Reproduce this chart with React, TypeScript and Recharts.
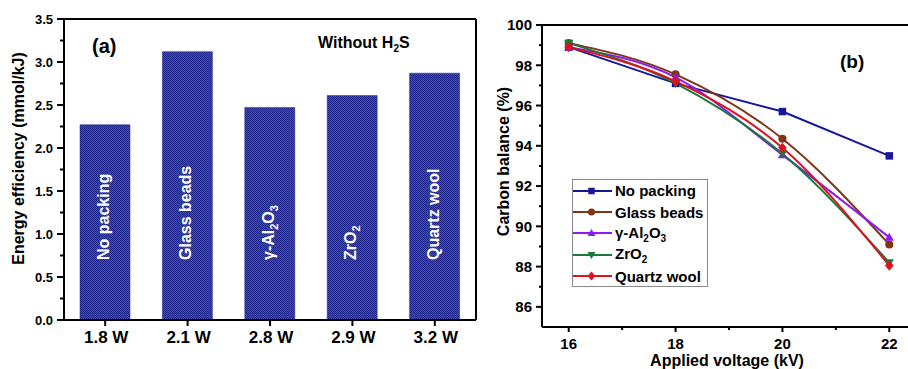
import React from 'react';
import { BarChart, Bar, XAxis, YAxis, LabelList, Label, LineChart, Line, Legend } from 'recharts';

const FONT = '"Liberation Sans", Arial, Helvetica, sans-serif';

// ---- Panel (a) data ----
const powers = ['1.8 W', '2.1 W', '2.8 W', '2.9 W', '3.2 W'];
const materials = ['No packing', 'Glass beads', 'γ-Al2O3', 'ZrO2', 'Quartz wool'];
const efficiency = [2.27, 3.12, 2.47, 2.61, 2.87];
const efficiencyTicks = [0, 0.25, 0.5, 0.75, 1, 1.25, 1.5, 1.75, 2, 2.25, 2.5, 2.75, 3, 3.25, 3.5];

// ---- Panel (b) data ----
const voltages = [16, 18, 20, 22];
const voltageTicks = [16, 17, 18, 19, 20, 21, 22];
const balanceTicks = [86, 87, 88, 89, 90, 91, 92, 93, 94, 95, 96, 97, 98, 99, 100];
const noPacking = [98.9, 97.1, 95.7, 93.5];
const glassBeads = [99.1, 97.55, 94.35, 89.1];
const alumina = [98.9, 97.4, 93.55, 89.45];
const zirconia = [99.1, 97.1, 93.6, 88.2];
const quartzWool = [98.9, 97.2, 93.9, 88.05];

const seriesKeys = ['np', 'gb', 'al', 'zr', 'qw'];
const seriesColors = ['#16169e', '#7f3514', '#8c1cf0', '#177a3c', '#e0101c'];
const seriesShapes = ['square', 'circle', 'triangle', 'triangleDown', 'diamond'];
const seriesCurves: any[] = ['linear', 'monotone', 'monotone', 'monotone', 'monotone'];

const barData = powers.map((p, i) => ({ power: p, material: materials[i], eff: efficiency[i] }));
const lineData = voltages.map((v, i) => ({
  v,
  np: noPacking[i],
  gb: glassBeads[i],
  al: alumina[i],
  zr: zirconia[i],
  qw: quartzWool[i],
}));

// split a chemical name into normal and subscript segments
function chemSegments(name: string) {
  const segs: { t: string; sub: boolean }[] = [];
  for (const ch of name) {
    const sub = /[0-9]/.test(ch);
    const last = segs[segs.length - 1];
    if (last && last.sub === sub) last.t += ch;
    else segs.push({ t: ch, sub });
  }
  return segs;
}

function chemSvg(name: string, subSize: number, shift: number) {
  const segs = chemSegments(name);
  let inSub = false;
  return segs.map((s, i) => {
    let dy = 0;
    if (s.sub && !inSub) dy = shift;
    if (!s.sub && inSub) dy = -shift;
    inSub = s.sub;
    return (
      <tspan key={i} dy={dy} fontSize={s.sub ? subSize : undefined}>
        {s.t}
      </tspan>
    );
  });
}

function chemHtml(name: string) {
  return chemSegments(name).map((s, i) =>
    s.sub ? (
      <span key={i} style={{ fontSize: 10, position: 'relative', top: 4 }}>
        {s.t}
      </span>
    ) : (
      <span key={i}>{s.t}</span>
    )
  );
}

function marker(shape: string, cx: number, cy: number, color: string, s: number, key?: any) {
  switch (shape) {
    case 'square':
      return <rect key={key} x={cx - s / 2} y={cy - s / 2} width={s} height={s} fill={color} />;
    case 'circle':
      return <circle key={key} cx={cx} cy={cy} r={s / 2 + 0.3} fill={color} />;
    case 'triangle':
      return (
        <polygon
          key={key}
          points={`${cx},${cy - s * 0.62} ${cx - s * 0.62},${cy + s * 0.45} ${cx + s * 0.62},${cy + s * 0.45}`}
          fill={color}
        />
      );
    case 'triangleDown':
      return (
        <polygon
          key={key}
          points={`${cx},${cy + s * 0.62} ${cx - s * 0.62},${cy - s * 0.45} ${cx + s * 0.62},${cy - s * 0.45}`}
          fill={color}
        />
      );
    default:
      return (
        <polygon
          key={key}
          points={`${cx},${cy - s * 0.68} ${cx + s * 0.58},${cy} ${cx},${cy + s * 0.68} ${cx - s * 0.58},${cy}`}
          fill={color}
        />
      );
  }
}

const tickText = { fontFamily: FONT, fontWeight: 'bold' as const, fill: '#000' };

// ---- ticks for panel (a) ----
const YTickA = (p: any) => {
  const { x, y, payload } = p;
  const v = payload.value as number;
  const major = Math.abs(v * 2 - Math.round(v * 2)) < 1e-6;
  return (
    <g>
      <line x1={x} x2={x - (major ? 7 : 4)} y1={y} y2={y} stroke="#000" strokeWidth={2} />
      {major && (
        <text x={x - 11} y={y} dy="0.36em" textAnchor="end" fontSize={13} {...tickText}>
          {v.toFixed(1)}
        </text>
      )}
    </g>
  );
};

const XTickA = (p: any) => {
  const { x, y, payload } = p;
  return (
    <g>
      <line x1={x} x2={x} y1={y} y2={y + 6} stroke="#000" strokeWidth={2} />
      <text x={x + 1} y={y + 23} textAnchor="middle" fontSize={17} {...tickText}>
        {payload.value}
      </text>
    </g>
  );
};

// ---- ticks for panel (b) ----
const YTickB = (p: any) => {
  const { x, y, payload } = p;
  const v = payload.value as number;
  const major = v % 2 === 0;
  return (
    <g>
      <line x1={x} x2={x - (major ? 6 : 3)} y1={y} y2={y} stroke="#000" strokeWidth={2} />
      {major && (
        <text x={x - 10} y={y} dy="0.36em" textAnchor="end" fontSize={15} {...tickText}>
          {v}
        </text>
      )}
    </g>
  );
};

const XTickB = (p: any) => {
  const { x, y, payload } = p;
  const v = payload.value as number;
  const major = v % 2 === 0;
  return (
    <g>
      <line x1={x} x2={x} y1={y} y2={y + (major ? 5 : 3)} stroke="#000" strokeWidth={2} />
      {major && (
        <text x={x} y={y + 22} textAnchor="middle" fontSize={15} {...tickText}>
          {v}
        </text>
      )}
    </g>
  );
};

const BarText = (props: any) => {
  const vb = props.viewBox && props.viewBox.width !== undefined ? props.viewBox : props;
  const { x, y, width, height } = vb;
  const cx = x + width / 2 + 4;
  const ty = y + height - 60;
  return (
    <text
      x={cx}
      y={ty}
      transform={`rotate(-90 ${cx} ${ty})`}
      fill="#fff"
      fontFamily={FONT}
      fontWeight="bold"
      fontSize={16}
      textAnchor="start"
    >
      {chemSvg(String(props.value), 11, 4)}
    </text>
  );
};

const axisLine = { stroke: '#000', strokeWidth: 2 };

const LegendBox = () => (
  <div
    style={{
      width: 136,
      height: 108,
      border: '1px solid #8a8a8a',
      boxSizing: 'border-box',
      background: '#fff',
      fontFamily: FONT,
      fontWeight: 'bold',
      fontSize: 15,
      color: '#000',
    }}
  >
    {materials.map((m, i) => (
      <div key={m} style={{ height: 21.4, display: 'flex', alignItems: 'center', whiteSpace: 'nowrap' }}>
        <svg width={39} height={12} style={{ flex: 'none' }}>
          <line x1={0} x2={39} y1={6} y2={6} stroke={seriesColors[i]} strokeWidth={2} />
          {marker(seriesShapes[i], 18.5, 6, seriesColors[i], 6.5)}
        </svg>
        <span style={{ marginLeft: 3, lineHeight: '15px' }}>{chemHtml(m)}</span>
      </div>
    ))}
  </div>
);

export default function App() {
  return (
    <div
      style={{
        position: 'absolute',
        left: 0,
        top: 0,
        width: 908,
        height: 369,
        overflow: 'hidden',
        background: '#fff',
      }}
    >
      <svg width={0} height={0} style={{ position: 'absolute' }}>
        <defs>
          <pattern id="checker" width={2} height={2} patternUnits="userSpaceOnUse">
            <rect x={0} y={0} width={2} height={2} fill="#3848e0" />
            <rect x={0} y={0} width={1} height={1} fill="#1e258c" />
            <rect x={1} y={1} width={1} height={1} fill="#1e258c" />
          </pattern>
        </defs>
      </svg>

      {/* Panel (a) */}
      <div style={{ position: 'absolute', left: 0, top: 0 }}>
        <BarChart width={480} height={369} data={barData} margin={{ top: 18, left: 63, right: 3, bottom: 48 }}>
          <XAxis
            dataKey="power"
            height={1}
            interval={0}
            tickSize={0}
            tickMargin={0}
            axisLine={axisLine}
            tickLine={false}
            tick={(p: any) => <XTickA {...p} />}
          />
          <XAxis
            xAxisId="top"
            dataKey="power"
            orientation="top"
            height={1}
            tick={false}
            tickLine={false}
            axisLine={axisLine}
          />
          <YAxis
            type="number"
            domain={[0, 3.5]}
            ticks={efficiencyTicks}
            interval={0}
            width={1}
            tickSize={0}
            tickMargin={0}
            axisLine={axisLine}
            tickLine={false}
            tick={(p: any) => <YTickA {...p} />}
          >
            <Label
              content={(p: any) => {
                const vb = p.viewBox;
                const tx = vb.x + vb.width - 40.5;
                const ty = vb.y + vb.height / 2 - 11;
                return (
                  <text
                    x={tx}
                    y={ty}
                    transform={`rotate(-90 ${tx} ${ty})`}
                    textAnchor="middle"
                    fontSize={16}
                    {...tickText}
                  >
                    Energy efficiency (mmol/kJ)
                  </text>
                );
              }}
            />
          </YAxis>
          <YAxis
            yAxisId="right"
            orientation="right"
            type="number"
            domain={[0, 3.5]}
            width={1}
            tick={false}
            tickLine={false}
            axisLine={axisLine}
          />
          <Bar dataKey="eff" barSize={50} fill="url(#checker) #2834b0" stroke="#1e258c" strokeWidth={0.5} isAnimationActive={false}>
            <LabelList dataKey="material" content={(p: any) => <BarText {...p} />} />
          </Bar>
        </BarChart>
      </div>

      {/* Panel (b) */}
      <div style={{ position: 'absolute', left: 480, top: 0 }}>
        <LineChart width={440} height={369} data={lineData} margin={{ top: 24, left: 61, right: 4, bottom: 41 }}>
          <XAxis
            dataKey="v"
            type="number"
            domain={[15.5, 22.5]}
            ticks={voltageTicks}
            interval={0}
            height={1}
            tickSize={0}
            tickMargin={0}
            axisLine={axisLine}
            tickLine={false}
            tick={(p: any) => <XTickB {...p} />}
          >
            <Label
              content={(p: any) => {
                const vb = p.viewBox;
                const tx = vb.x + vb.width / 2 - 2;
                const ty = vb.y + 38.5;
                return (
                  <text x={tx} y={ty} textAnchor="middle" fontSize={16} {...tickText}>
                    Applied voltage (kV)
                  </text>
                );
              }}
            />
          </XAxis>
          <XAxis
            xAxisId="top"
            dataKey="v"
            type="number"
            domain={[15.5, 22.5]}
            orientation="top"
            height={1}
            tick={false}
            tickLine={false}
            axisLine={axisLine}
          />
          <YAxis
            type="number"
            domain={[85, 100]}
            ticks={balanceTicks}
            interval={0}
            width={1}
            tickSize={0}
            tickMargin={0}
            axisLine={axisLine}
            tickLine={false}
            tick={(p: any) => <YTickB {...p} />}
          >
            <Label
              content={(p: any) => {
                const vb = p.viewBox;
                const tx = vb.x + vb.width - 33.5;
                const ty = vb.y + vb.height / 2 - 14.5;
                return (
                  <text
                    x={tx}
                    y={ty}
                    transform={`rotate(-90 ${tx} ${ty})`}
                    textAnchor="middle"
                    fontSize={16}
                    {...tickText}
                  >
                    Carbon balance (%)
                  </text>
                );
              }}
            />
          </YAxis>
          {seriesKeys.map((k, i) => (
            <Line
              key={k}
              dataKey={k}
              name={materials[i]}
              type={seriesCurves[i]}
              stroke={seriesColors[i]}
              strokeWidth={2}
              isAnimationActive={false}
              activeDot={false}
              dot={(p: any) => marker(seriesShapes[i], p.cx, p.cy, seriesColors[i], 7.5, `${k}-${p.index}`)}
            />
          ))}
          <Legend
            layout="vertical"
            align="center"
            verticalAlign="middle"
            content={() => <LegendBox />}
            wrapperStyle={{ position: 'absolute', left: 92, top: 179, width: 'auto', height: 'auto' }}
          />
        </LineChart>
      </div>

      {/* Annotations */}
      <svg width={908} height={369} style={{ position: 'absolute', left: 0, top: 0, pointerEvents: 'none' }}>
        <text x={92} y={52.5} fontSize={20} {...tickText}>
          (a)
        </text>
        <text x={318} y={48} fontSize={16} {...tickText}>
          Without H
          <tspan dy={4} fontSize={10}>
            2
          </tspan>
          <tspan dy={-4}>S</tspan>
        </text>
        <text x={840} y={68} fontSize={19} {...tickText}>
          (b)
        </text>
      </svg>
    </div>
  );
}
